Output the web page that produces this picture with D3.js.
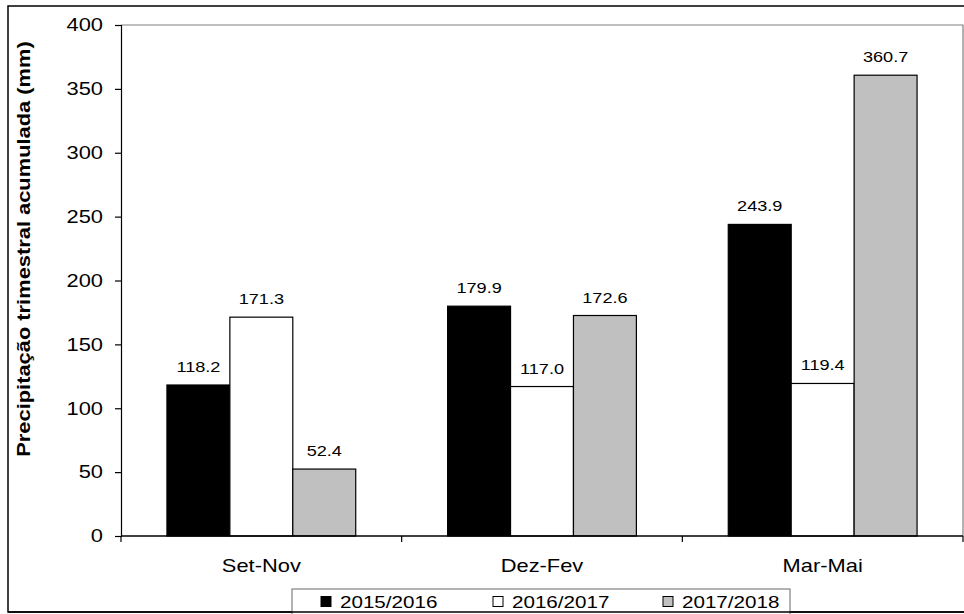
<!DOCTYPE html>
<html>
<head>
<meta charset="utf-8">
<script src="https://cdn.jsdelivr.net/npm/d3@7"></script>
<style>
  body { margin: 0; background: #fff; }
  text { font-family: "Liberation Sans", Arial, sans-serif; fill: #000; }
</style>
</head>
<body>
<svg id="chart" width="964" height="614"></svg>
<script>
// Accumulated quarterly rainfall by season
const categories = ["Set-Nov", "Dez-Fev", "Mar-Mai"];
const seriesNames = ["2015/2016", "2016/2017", "2017/2018"];
const s2015 = [118.2, 179.9, 243.9];
const s2016 = [171.3, 117.0, 119.4];
const s2017 = [52.4, 172.6, 360.7];
const yTicks = [0, 50, 100, 150, 200, 250, 300, 350, 400];
const yTitle = "Precipitação trimestral acumulada (mm)";

const seriesValues = [s2015, s2016, s2017];
const fills = ["#000000", "#ffffff", "#c0c0c0"];
const SX = 1.25; // text stretch along its baseline

const svg = d3.select("#chart");
const m = { left: 121, right: 963, top: 25, bottom: 536 };

// outer frame
svg.append("rect").attr("x", 8).attr("y", 6).attr("width", 962).attr("height", 606)
  .attr("fill", "none").attr("stroke", "#000").attr("stroke-width", 1.5);

const x0 = d3.scaleBand().domain(categories).range([m.left, m.right]).paddingInner(0).paddingOuter(0);
const x1 = d3.scaleBand().domain(seriesNames).range([0, x0.bandwidth()]).paddingInner(0).paddingOuter(0.73);
const y = d3.scaleLinear().domain([0, 400]).range([m.bottom, m.top]);

// plot area top and right edges
svg.append("path")
  .attr("d", `M${m.left},${m.top}H${m.right}V${m.bottom}`)
  .attr("fill", "none").attr("stroke", "#808080").attr("stroke-width", 1.2);

function stretchedText(sel, xPos, yPos, str, size, anchor, weight) {
  return sel.append("text")
    .attr("transform", `translate(${xPos},${yPos}) scale(${SX},1)`)
    .attr("text-anchor", anchor)
    .attr("font-size", size)
    .attr("font-weight", weight || "normal")
    .text(str);
}

// bars
const rows = categories.map((c, i) => ({ c, vals: seriesNames.map((s, j) => ({ s, j, v: seriesValues[j][i] })) }));
const g = svg.append("g");
const groups = g.selectAll("g.cat").data(rows).join("g")
  .attr("transform", d => `translate(${x0(d.c)},0)`);
groups.selectAll("rect").data(d => d.vals).join("rect")
  .attr("x", d => x1(d.s))
  .attr("y", d => y(d.v))
  .attr("width", x1.bandwidth())
  .attr("height", d => y(0) - y(d.v))
  .attr("fill", d => fills[d.j])
  .attr("stroke", "#000").attr("stroke-width", 1.2);
groups.each(function (d) {
  const gg = d3.select(this);
  d.vals.forEach(v => {
    stretchedText(gg, x1(v.s) + x1.bandwidth() / 2, y(v.v) - 13, v.v.toFixed(1), 14.5, "middle");
  });
});

// y axis
const yAxis = d3.axisLeft(y).tickValues(yTicks).tickSize(6).tickFormat("");
const ya = svg.append("g").attr("transform", `translate(${m.left},0)`).call(yAxis);
ya.selectAll("path, line").attr("stroke", "#000").attr("stroke-width", 1.2);
yTicks.forEach(t => stretchedText(svg, 103, y(t) + 6.3, String(t), 17.5, "end"));

// x axis with boundary ticks
svg.append("line").attr("x1", m.left).attr("x2", m.right).attr("y1", m.bottom).attr("y2", m.bottom)
  .attr("stroke", "#000").attr("stroke-width", 1.5);
const bounds = categories.map(c => x0(c)).concat([m.right]);
svg.selectAll("line.bt").data(bounds).join("line").attr("class", "bt")
  .attr("x1", d => d).attr("x2", d => d).attr("y1", m.bottom).attr("y2", m.bottom + 6)
  .attr("stroke", "#000").attr("stroke-width", 1.2);
categories.forEach(c => stretchedText(svg, x0(c) + x0.bandwidth() / 2, 572, c, 17.5, "middle"));

// y title
svg.append("text")
  .attr("transform", `translate(30,249) rotate(-90) scale(${SX},1)`)
  .attr("text-anchor", "middle")
  .attr("font-size", 17.5)
  .attr("font-weight", "bold")
  .text(yTitle);

// legend
const leg = svg.append("g");
leg.append("rect").attr("x", 292).attr("y", 589).attr("width", 498).attr("height", 26)
  .attr("fill", "#fff").attr("stroke", "#808080").attr("stroke-width", 1.2);
const legX = [321, 493, 663];
seriesNames.forEach((s, j) => {
  leg.append("rect").attr("x", legX[j]).attr("y", 596.5).attr("width", 10).attr("height", 10)
    .attr("fill", fills[j]).attr("stroke", "#000").attr("stroke-width", 1);
  stretchedText(leg, legX[j] + 19, 607.5, s, 16.5, "start");
});
// bottom frame line over legend
svg.append("line").attr("x1", 8).attr("x2", 964).attr("y1", 612).attr("y2", 612)
  .attr("stroke", "#000").attr("stroke-width", 1.5);
</script>
</body>
</html>
